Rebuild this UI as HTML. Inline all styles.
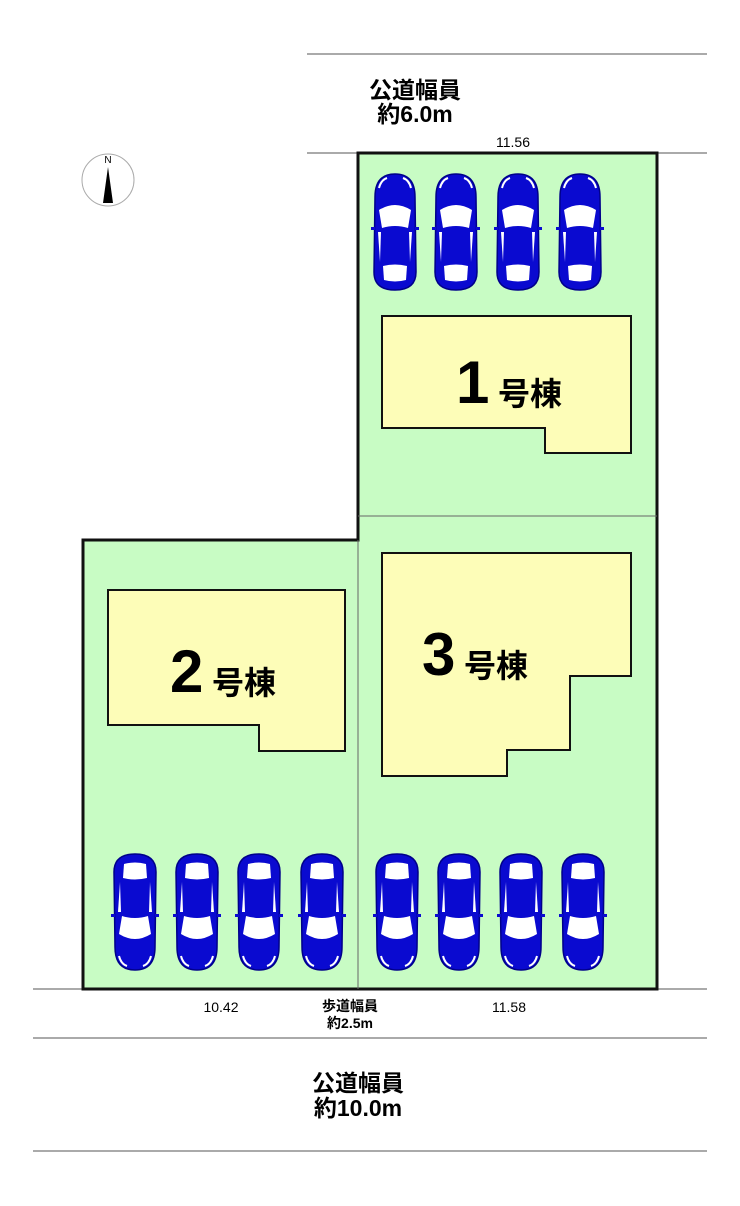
<!DOCTYPE html>
<html><head><meta charset="utf-8"><style>
body{margin:0;background:#fff;}
svg{display:block;}
text{font-family:"Liberation Sans","Noto Sans CJK JP",sans-serif;}
</style></head><body>
<svg width="740" height="1206" viewBox="0 0 740 1206" xmlns="http://www.w3.org/2000/svg">
<defs>
<g id="car">
<path d="M4,25 Q4,2 24,2 Q44,2 44,25 L45,100 Q45,118 24,118 Q3,118 3,100 Z" fill="#0a0ad0" stroke="#00008a" stroke-width="1.5"/>
<path d="M8,38 Q24,28 40,38 L37,56 Q24,52 11,56 Z" fill="#fff"/>
<path d="M12,94 Q24,91 36,94 L35,108 Q24,111 13,108 Z" fill="#fff"/>
<path d="M7,60 L9,90 L10,60 Z" fill="#fff"/>
<path d="M41,60 L39,90 L38,60 Z" fill="#fff"/>
<path d="M8,16 Q10,8 16,6" stroke="#fff" stroke-width="2" fill="none"/>
<path d="M40,16 Q38,8 32,6" stroke="#fff" stroke-width="2" fill="none"/>
<rect x="0" y="55" width="4" height="3" fill="#0a0ad0"/>
<rect x="44" y="55" width="4" height="3" fill="#0a0ad0"/>
</g>
</defs>
<g stroke="#555" stroke-width="1">
<line x1="307" y1="54" x2="707" y2="54"/>
<line x1="307" y1="153" x2="707" y2="153"/>
<line x1="33" y1="989" x2="707" y2="989"/>
<line x1="33" y1="1038" x2="707" y2="1038"/>
<line x1="33" y1="1151" x2="707" y2="1151"/>
</g>
<polygon points="358,153 657,153 657,989 83,989 83,540 358,540" fill="#c8fcc4" stroke="#111" stroke-width="3"/>
<line x1="358" y1="516" x2="657" y2="516" stroke="#666" stroke-width="1"/>
<line x1="358" y1="540" x2="358" y2="989" stroke="#666" stroke-width="1"/>
<g fill="#fdfdb8" stroke="#111" stroke-width="2">
<polygon points="382,316 631,316 631,453 545,453 545,428 382,428"/>
<polygon points="108,590 345,590 345,751 259,751 259,725 108,725"/>
<polygon points="382,553 631,553 631,676 570,676 570,750 507,750 507,776 382,776"/>
</g>
<g font-weight="bold" fill="#000">
<text x="456" y="403" font-size="60">1</text><text x="498" y="405" font-size="32">号棟</text>
<text x="170" y="692" font-size="60">2</text><text x="212" y="694" font-size="32">号棟</text>
<text x="422" y="675" font-size="60">3</text><text x="464" y="677" font-size="32">号棟</text>
</g>
<use href="#car" x="371" y="172"/>
<use href="#car" x="432" y="172"/>
<use href="#car" x="494" y="172"/>
<use href="#car" x="556" y="172"/>
<g transform="translate(0,1825) scale(1,-1)">
<use href="#car" x="111" y="853"/>
<use href="#car" x="173" y="853"/>
<use href="#car" x="235" y="853"/>
<use href="#car" x="298" y="853"/>
<use href="#car" x="373" y="853"/>
<use href="#car" x="435" y="853"/>
<use href="#car" x="497" y="853"/>
<use href="#car" x="559" y="853"/>
</g>
<circle cx="108" cy="180" r="26" fill="#fff" stroke="#aaa" stroke-width="1"/>
<text x="108" y="163" font-size="10" text-anchor="middle" font-family="Liberation Serif,serif">N</text>
<polygon points="108,167 103,203 113,203" fill="#000"/>
<g font-weight="bold" text-anchor="middle" fill="#000">
<text x="415" y="98" font-size="23">公道幅員</text>
<text x="415" y="122" font-size="23">約6.0m</text>
<text x="358" y="1091" font-size="23">公道幅員</text>
<text x="358" y="1116" font-size="23">約10.0m</text>
<text x="350" y="1011" font-size="14">歩道幅員</text>
<text x="350" y="1028" font-size="14">約2.5m</text>
</g>
<g font-size="14" text-anchor="middle" fill="#000">
<text x="513" y="147">11.56</text>
<text x="221" y="1012">10.42</text>
<text x="509" y="1012">11.58</text>
</g>
</svg>
</body></html>
